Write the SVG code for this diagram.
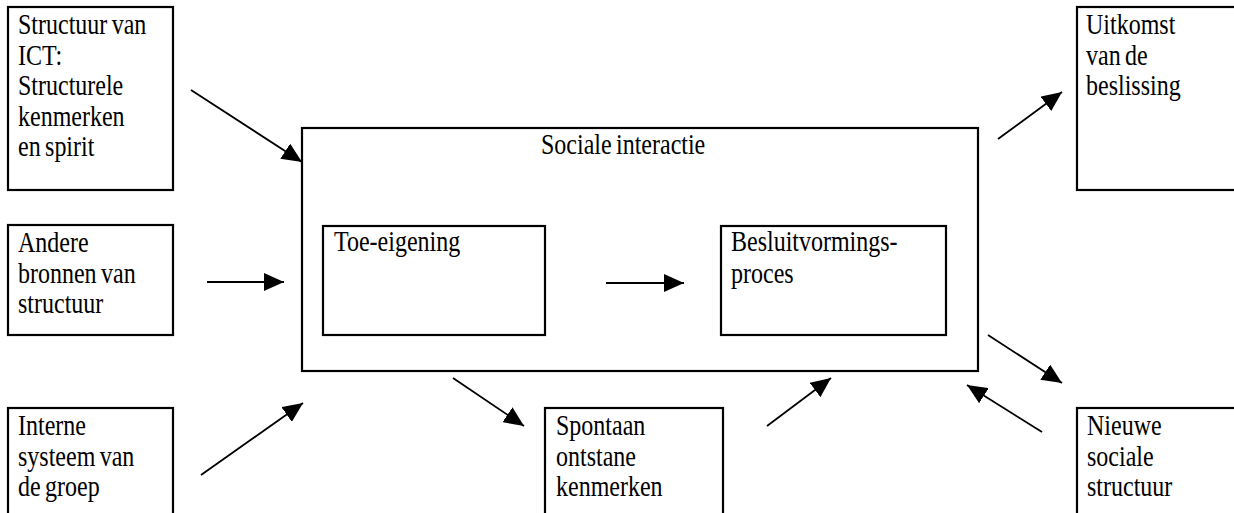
<svg xmlns="http://www.w3.org/2000/svg" width="1234" height="513" viewBox="0 0 1234 513">
<style>
.box{fill:#fff;stroke:#000;stroke-width:2.2}
.t{font-family:"Liberation Serif","Times New Roman",serif;font-size:30px;fill:#000;word-spacing:-2px}
.c{stroke:#000;stroke-width:1.8;fill:none;marker-end:url(#ah)}
</style>
<defs>
<marker id="ah" markerUnits="userSpaceOnUse" viewBox="0 0 20 18" refX="20" refY="9" markerWidth="20" markerHeight="18" orient="auto">
<path d="M0,0 L20,9 L0,18 Z" fill="#000"/>
</marker>
</defs>
<rect width="1234" height="513" fill="#fff"/>
<g id="structuur-ict">
<rect class="box" x="8" y="7" width="165" height="183"/>
<text class="t" transform="translate(18,34) scale(0.8,1)"><tspan x="0" y="0">Structuur van</tspan><tspan x="0" dy="30.6">ICT:</tspan><tspan x="0" dy="30.6">Structurele</tspan><tspan x="0" dy="30.6">kenmerken</tspan><tspan x="0" dy="30.6">en spirit</tspan></text>
</g>
<g id="andere-bronnen">
<rect class="box" x="8" y="225" width="165" height="110"/>
<text class="t" transform="translate(18,252) scale(0.8,1)"><tspan x="0" y="0">Andere</tspan><tspan x="0" dy="30.6">bronnen van</tspan><tspan x="0" dy="30.6">structuur</tspan></text>
</g>
<g id="interne-systeem">
<rect class="box" x="8" y="408" width="165" height="120"/>
<text class="t" transform="translate(18,435) scale(0.8,1)"><tspan x="0" y="0">Interne</tspan><tspan x="0" dy="30.6">systeem van</tspan><tspan x="0" dy="30.6">de groep</tspan></text>
</g>
<g id="sociale-interactie">
<rect class="box" x="302" y="128" width="676" height="243"/>
<text class="t" transform="translate(541,154) scale(0.8,1)">Sociale interactie</text>
</g>
<g id="toe-eigening">
<rect class="box" x="323" y="226" width="222" height="109"/>
<text class="t" transform="translate(334,251) scale(0.8,1)">Toe-eigening</text>
</g>
<g id="besluitvormingsproces">
<rect class="box" x="721" y="226" width="225" height="109"/>
<text class="t" transform="translate(731,251) scale(0.8,1)"><tspan x="0" y="0">Besluitvormings-</tspan><tspan x="0" dy="32">proces</tspan></text>
</g>
<g id="spontaan">
<rect class="box" x="545" y="408" width="178" height="120"/>
<text class="t" transform="translate(556,435) scale(0.8,1)"><tspan x="0" y="0">Spontaan</tspan><tspan x="0" dy="30.6">ontstane</tspan><tspan x="0" dy="30.6">kenmerken</tspan></text>
</g>
<g id="uitkomst">
<rect class="box" x="1077" y="7" width="170" height="183"/>
<text class="t" transform="translate(1086,34) scale(0.8,1)"><tspan x="0" y="0">Uitkomst</tspan><tspan x="0" dy="30.6">van de</tspan><tspan x="0" dy="30.6">beslissing</tspan></text>
</g>
<g id="nieuwe-sociale-structuur">
<rect class="box" x="1077" y="408" width="170" height="120"/>
<text class="t" transform="translate(1087,435) scale(0.8,1)"><tspan x="0" y="0">Nieuwe</tspan><tspan x="0" dy="30.6">sociale</tspan><tspan x="0" dy="30.6">structuur</tspan></text>
</g>
<g id="connectors">
<line class="c" x1="191" y1="90" x2="302" y2="162"/>
<line class="c" x1="207" y1="282" x2="284" y2="282"/>
<line class="c" x1="201" y1="475" x2="303" y2="403"/>
<line class="c" x1="453" y1="378" x2="524" y2="426"/>
<line class="c" x1="767" y1="426" x2="831" y2="378"/>
<line class="c" x1="606" y1="283" x2="684" y2="283"/>
<line class="c" x1="998" y1="139" x2="1062" y2="92"/>
<line class="c" x1="988" y1="335" x2="1062" y2="383"/>
<line class="c" x1="1042" y1="432" x2="967" y2="385"/>
</g>
</svg>
